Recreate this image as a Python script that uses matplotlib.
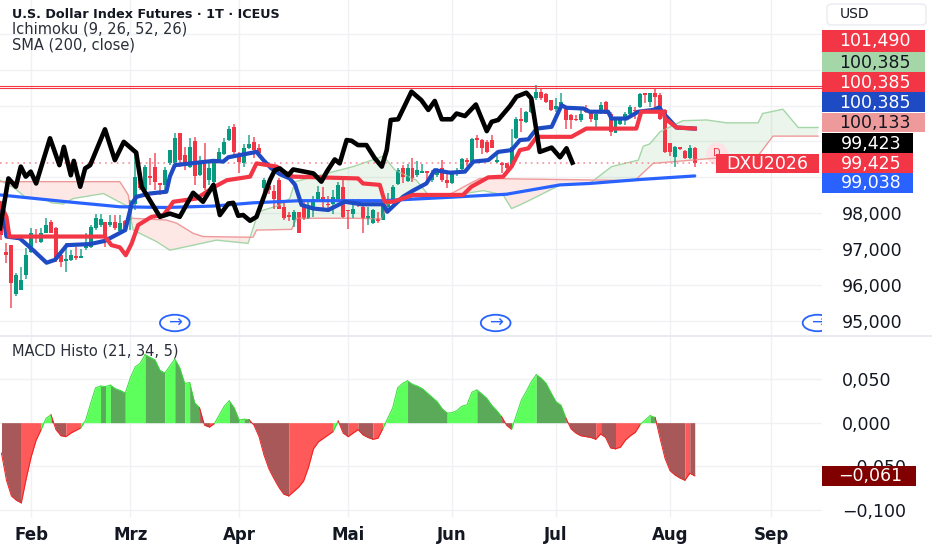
import numpy as np
import matplotlib
matplotlib.use("Agg")
import matplotlib.pyplot as plt
from matplotlib.patches import Ellipse, Rectangle, FancyBboxPatch

# daily candles
opens = [98.32,96.93,97.11,95.75,95.86,96.28,96.93,97.37,97.21,97.46,97.76,97.60,96.83,96.68,96.70,96.81,96.76,97.02,97.07,97.60,
         97.67,97.76,97.67,97.76,97.51,97.79,97.81,98.27,99.11,98.65,99.04,99.30,98.83,98.79,99.39,99.39,100.23,99.62,99.30,100.02,
         99.06,99.44,98.92,98.88,99.44,99.65,100.04,100.41,99.57,99.39,99.81,99.99,99.81,98.69,98.75,98.62,98.92,98.18,97.95,97.81,
         98.04,98.23,97.86,98.18,98.39,98.46,98.27,98.26,98.41,98.74,98.10,97.98,98.35,98.18,97.88,97.74,97.84,97.81,98.18,98.37,
         98.81,99.25,98.91,99.25,99.06,99.13,99.17,98.94,99.06,99.25,98.94,98.83,99.13,99.22,99.48,99.39,100.09,100.04,99.99,100.04,
         99.44,99.39,99.39,99.28,100.09,100.62,100.55,100.83,101.20,101.39,101.32,101.15,100.90,101.01,100.97,100.74,100.64,100.60,100.92,100.83,
         100.60,100.83,101.11,100.78,100.24,100.50,100.64,100.78,100.89,100.95,101.35,101.11,101.36,101.29,100.88,99.95,99.56,99.84,99.73,99.53,99.83]
highs = [98.32,97.16,97.11,96.32,96.51,97.02,97.58,97.55,97.58,97.86,97.81,97.62,96.93,97.16,96.97,97.05,96.99,97.44,97.67,97.99,
         97.99,97.76,97.95,97.95,97.95,97.81,98.37,99.67,99.16,99.34,99.55,99.67,98.83,99.28,99.76,100.24,100.23,99.85,100.09,100.13,
         99.59,99.95,99.44,99.46,99.81,100.09,100.43,100.50,99.71,99.93,100.18,100.13,99.93,98.97,98.90,98.79,98.97,98.37,98.04,98.09,
         98.04,98.32,98.34,98.48,98.76,98.74,98.48,98.65,98.88,98.92,98.10,98.41,98.41,98.23,98.16,98.13,98.04,98.27,98.57,98.80,
         99.25,99.34,99.37,99.55,99.46,99.37,99.17,99.20,99.25,99.48,99.09,99.16,99.25,99.53,99.53,100.09,100.18,100.06,100.04,100.18,
         99.62,99.44,99.41,100.34,100.69,100.92,100.86,101.20,101.57,101.48,101.36,101.17,101.20,101.36,100.99,100.78,100.74,100.88,101.01,100.86,
         100.83,101.11,101.14,100.83,100.64,100.69,100.83,101.01,100.97,101.36,101.36,101.36,101.45,101.34,100.90,99.97,99.87,99.84,99.76,99.90,99.85]
lows = [97.25,96.62,95.35,95.69,95.86,96.18,96.90,97.16,97.16,97.44,97.44,96.65,96.51,96.37,96.68,96.70,96.74,96.97,97.02,97.53,
        97.62,97.07,97.62,97.53,97.46,97.51,97.53,98.09,98.65,98.60,98.79,98.65,98.51,98.65,99.34,99.30,99.30,99.20,99.25,98.79,
        99.04,98.65,98.79,98.74,99.39,99.62,100.02,99.62,99.11,99.28,99.78,99.55,99.57,98.37,98.55,98.13,98.11,97.81,97.79,97.62,
        97.44,97.81,97.84,97.90,98.35,98.07,98.04,97.99,98.39,97.86,97.55,97.86,98.18,97.46,97.67,97.70,97.74,97.81,98.13,98.32,
        98.79,98.83,98.88,98.88,99.02,99.11,98.88,98.88,99.02,98.88,98.69,98.81,99.04,99.20,99.32,99.34,99.83,99.65,99.69,99.81,
        99.39,99.13,99.20,99.25,100.06,100.27,100.52,100.80,101.17,101.15,101.08,100.86,100.83,100.97,100.36,100.36,100.58,100.55,100.80,100.55,
        100.36,100.78,100.76,100.15,100.23,100.46,100.46,100.74,100.64,100.92,101.06,100.97,100.97,100.60,99.67,99.59,99.30,99.76,99.50,99.50,99.28]
closes = [97.39,96.83,96.05,96.28,96.14,96.83,97.44,97.32,97.44,97.67,97.46,96.70,96.65,96.72,96.83,96.76,96.81,97.11,97.62,97.86,
          97.84,97.35,97.76,97.58,97.72,97.53,98.23,99.02,98.69,99.30,98.97,98.88,98.79,99.20,99.76,100.10,99.48,99.34,99.85,99.04,
          99.39,98.69,99.25,99.39,99.71,99.99,100.36,99.71,99.44,99.83,99.93,99.76,99.67,98.92,98.65,98.41,98.13,97.86,97.90,98.04,
          97.44,97.86,98.23,98.41,98.60,98.32,98.22,98.46,98.80,97.90,98.05,98.13,98.30,97.86,97.93,98.09,97.78,98.23,98.32,98.74,
          99.20,99.02,99.25,98.97,99.20,99.18,99.12,99.11,99.22,98.92,98.83,99.13,99.18,99.50,99.44,100.06,100.03,99.81,99.71,99.83,
          99.48,99.34,99.25,99.85,100.64,100.57,100.83,101.17,101.39,101.20,101.11,100.88,101.00,101.11,100.60,100.60,100.59,100.78,100.83,100.64,
          100.76,101.01,100.78,100.27,100.60,100.64,100.78,100.97,100.84,101.32,101.30,101.34,101.25,100.64,99.71,99.71,99.85,99.79,99.53,99.81,99.41]

tenkan_x = [0,1,3.7,6.4,9.1,10.8,13.2,17.9,20.9,25,26.3,27.3,30,33.3,34,35,42.8,44.8,45.8,51.5,52.9,54.5,56.2,58.2,59.3,60.6,63,66,68,69.3,72.7,77.1,77.9,81.1,83.1,85.8,87.5,90.6,93.6,95.3,98.3,100.3,103,104.7,106.4,108.1,111.1,112.8,113.1,114.1,117.5,118.8,122.5,123.2,126.2,128.6,131.6,132.8,134,136.3,140]
tenkan_y = [98.27,97.35,97.30,96.97,96.62,96.70,97.11,97.14,97.23,97.53,98.27,98.46,98.55,98.60,99.02,99.34,99.46,99.44,99.56,99.71,99.48,99.25,99.09,98.97,98.79,98.23,98.13,98.09,98.23,98.32,98.25,98.25,98.04,98.46,98.63,98.83,99.20,99.13,99.16,99.44,99.48,99.71,99.76,100.04,100.06,100.36,100.41,100.92,101.01,100.94,100.92,100.83,100.83,100.64,100.64,100.83,100.88,100.95,100.74,100.39,100.36]
kijun_x = [-0.3,1,1.6,20.9,22.2,23.9,25.1,26.3,27.6,30.3,32.7,34,34.7,39.4,42.8,45.5,50.2,51.5,55.6,56.9,58.9,72,73,76.4,77.4,79.1,83.1,93.2,94.9,98.3,101.3,103,104.7,106.4,108.1,115.1,118.1,128.2,129.2,133.6,134,136.3,140]
kijun_y = [98.27,97.90,97.35,97.35,97.11,97.05,96.83,97.16,97.67,97.90,97.95,98.18,98.32,98.41,98.72,98.92,99.02,99.39,99.30,99.16,99.02,98.97,98.83,98.79,98.32,98.32,98.51,98.51,98.74,99.00,99.02,99.30,99.76,99.81,100.13,100.13,100.36,100.36,100.83,100.83,100.64,100.39,100.36]
chikou_x = [-0.3,1.4,2.9,3.9,4.9,5.9,7,9.8,11.7,12.6,14,14.6,15.9,16.9,17.9,20.9,22.9,24.7,27.2,28.3,32,34,36,38.7,40.7,42.8,44.1,45.8,46.8,47.8,48.8,50.2,51.5,54.2,55.2,56.2,57.9,58.9,63,64.6,65.7,67.3,68.3,69.7,70.7,72,73.7,75.4,76.8,77.8,78.6,80.1,82.8,84.8,86.2,87.5,88.9,90.9,91.9,93.6,95.8,98,99,100.3,102.7,104,106,107,108.7,111.1,112.8,114.1,115.3]
chikou_y = [97.58,98.97,98.74,99.30,99.02,99.16,98.83,100.09,99.34,99.85,99.06,99.46,98.74,99.25,99.34,100.34,99.48,99.99,99.69,98.74,97.90,97.99,97.90,98.57,98.32,98.79,97.95,98.27,98.29,97.93,97.95,97.79,97.90,98.92,99.20,99.25,99.06,99.22,99.11,98.88,99.16,99.50,99.39,100.04,100.02,99.90,99.90,99.53,99.30,99.76,100.60,100.62,101.39,101.15,100.88,101.13,100.62,100.62,100.78,100.71,101.03,100.29,100.55,100.60,100.99,101.25,101.36,101.20,99.71,99.83,99.56,99.81,99.41]
sma_x = [-0.3,13.2,23.9,33.3,42.8,50.8,60.3,77.1,89.9,102,112.8,118.8,128.9,140]
sma_y = [98.51,98.32,98.18,98.16,98.20,98.29,98.35,98.35,98.44,98.53,98.79,98.83,98.94,99.04]
span_a_x = [-0.3,2.7,4.7,9.1,10.1,12.5,14.5,20.6,25.6,26.6,31.3,34,38.1,43.4,49.8,51.9,56.2,58.2,59.3,71,77.1,79.5,83.8,86.2,89.2,92.6,97.3,101.3,103,104.7,108.1,112.8,118.8,123.2,128.6,129.6,130.9,133,137.6,142.4,146.4,152.8,153.7,157.8,160.9,164.9]
span_a_y = [98.92,98.69,98.46,98.37,98.29,98.26,98.41,98.55,98.18,97.53,97.21,96.97,97.09,97.25,97.16,98.04,98.23,98.41,98.88,99.30,99.59,99.20,98.92,98.51,98.46,98.53,98.63,98.51,98.13,98.23,98.46,98.79,98.83,99.30,99.48,99.87,99.93,100.27,100.58,100.60,100.52,100.52,100.78,100.90,100.39,100.39]
span_b_x = [-0.3,23.9,25.6,26.3,33.3,35.4,38.7,40.7,50.8,51.5,58.6,59.6,71,76.8,77.8,79.8,89.9,95.3,96.6,123.2,127.9,131.6,143.6,152.4,155.8,164.9]
span_b_y = [98.88,98.88,98.51,97.86,97.81,97.72,97.44,97.35,97.33,97.53,97.55,97.86,97.86,97.84,98.23,98.39,98.48,98.88,98.97,98.92,98.91,99.39,99.53,99.53,100.15,100.15]

level_lines = [101.56, 101.485]
last_close = 99.41

macd = [-0.035,-0.066,-0.084,-0.089,-0.092,-0.064,-0.039,-0.020,-0.008,0.005,0.009,-0.008,-0.015,-0.016,-0.012,-0.009,-0.006,0.003,0.022,0.040,
        0.042,0.0415,0.043,0.039,0.037,0.034,0.051,0.064,0.068,0.078,0.075,0.072,0.060,0.057,0.065,0.073,0.063,0.045,0.046,0.023,
        0.017,-0.003,-0.005,-0.001,0.009,0.019,0.025,0.017,0.003,0.004,0.0035,-0.003,-0.016,-0.037,-0.053,-0.064,-0.074,-0.082,-0.084,-0.079,
        -0.074,-0.067,-0.051,-0.030,-0.022,-0.018,-0.014,-0.010,0.002,-0.012,-0.016,-0.012,-0.008,-0.014,-0.017,-0.019,-0.018,-0.007,0.005,0.017,
        0.040,0.045,0.048,0.044,0.042,0.039,0.034,0.029,0.024,0.016,0.011,0.0115,0.014,0.019,0.0205,0.035,0.0375,0.033,0.028,0.020,
        0.014,0.007,-0.003,-0.0077,0.009,0.026,0.036,0.047,0.055,0.051,0.045,0.034,0.024,0.020,0.005,-0.007,-0.012,-0.015,-0.016,-0.017,
        -0.019,-0.013,-0.017,-0.029,-0.030,-0.028,-0.020,-0.015,-0.011,-0.002,0.003,0.008,0.006,-0.018,-0.041,-0.055,-0.060,-0.0635,-0.066,-0.058,-0.061]

month_pos = [6, 26, 48, 70, 91, 112, 135, 155.5]
month_names = ["Feb", "Mrz", "Apr", "Mai", "Jun", "Jul", "Aug", "Sep"]
price_ticks = [95, 96, 97, 98, 99, 100, 101, 102, 103]
hidden_ticks = [99, 101, 102, 103]
macd_ticks = [0.05, 0.0, -0.05, -0.1]
icon_pos = [35, 99.8, 164.8]

tag_text = ["101,490", "100,385", "100,385", "100,385", "100,133", "99,423", "99,425", "99,038"]
tag_fill = ["#f23645", "#a5d6a7", "#f23645", "#1e4bc4", "#ef9a9a", "#000000", "#f23645", "#2962ff"]
tag_ink = ["white", "#131722", "white", "white", "#131722", "white", "white", "white"]
tag_top = [30, 52, 72, 92.5, 112.5, 133, 153, 173]
tag_right = [925, 925, 925, 925, 925, 913, 913, 913]

UP = "#089981"
DOWN = "#f23645"
GRID = "#f0f1f4"
INK = "#131722"

W, H = 932, 550
fig = plt.figure(figsize=(W / 100, H / 100), dpi=100)


def pane(top, bottom):
    return fig.add_axes([0, 1 - bottom / H, 822 / W, (bottom - top) / H])


def fig_box(x0, y0, x1, y1, color):
    fig.add_artist(Rectangle((x0 / W, 1 - y1 / H), (x1 - x0) / W, (y1 - y0) / H,
                             transform=fig.transFigure, fc=color, ec="none"))


def slope_colour(prev, cur):
    if cur >= 0:
        return "#5cff5c" if cur > prev else "#5aaa5a"
    return "#ff5a5a" if cur > prev else "#a85858"


ax = pane(0, 335)
ax2 = pane(337, 518)
for a in (ax, ax2):
    a.set_xlim(-0.3, 165.7)
    a.set_xticks(month_pos)
    a.grid(True, color=GRID, lw=1)
    a.set_axisbelow(True)
    for s in a.spines.values():
        s.set_visible(False)
    a.yaxis.tick_right()
    a.tick_params(length=0, labelsize=12.5, labelcolor=INK, pad=14.5)
ax.set_ylim(94.605, 103.945)
ax.set_yticks(price_ticks)
ax.set_yticklabels(["" if p in hidden_ticks else f"{p:.3f}".replace(".", ",") for p in price_ticks])
ax.tick_params(axis="x", labelbottom=False)

# cloud
bars = np.linspace(-0.3, 164.9, 800)
a_line = np.interp(bars, span_a_x, span_a_y)
b_line = np.interp(bars, span_b_x, span_b_y)
ax.fill_between(bars, a_line, b_line, where=a_line >= b_line, color="#43a047", alpha=0.1, lw=0, interpolate=True)
ax.fill_between(bars, a_line, b_line, where=a_line < b_line, color="#f44336", alpha=0.12, lw=0, interpolate=True)
ax.plot(span_a_x, span_a_y, color="#a5d6a7", lw=1)
ax.plot(span_b_x, span_b_y, color="#ef9a9a", lw=1)

ax.axhline(last_close, color="#f78f99", lw=1.2, ls=(0, (1, 2.5)))

# faint dividend bubble behind the contract label
ax.add_patch(Ellipse((144.5, 99.66), 4.4, 0.62, fc="#fde3e5", ec="none"))
ax.text(144.5, 99.68, "D", color=DOWN, fontsize=7, ha="center", va="center")

# candles
for i in range(len(opens)):
    col = UP if closes[i] >= opens[i] else DOWN
    ax.vlines(i, lows[i], highs[i], color=col, lw=1.2, alpha=0.8)
    ax.bar(i, max(abs(closes[i] - opens[i]), 0.05), bottom=min(opens[i], closes[i]), width=0.8, color=col, lw=0)

ax.plot(sma_x, sma_y, color="#2962ff", lw=2.3, solid_capstyle="round")
ax.plot(tenkan_x, tenkan_y, color="#1e4bc4", lw=3, solid_joinstyle="round")
ax.plot(kijun_x, kijun_y, color="#f23645", lw=3, solid_joinstyle="round")
ax.plot(chikou_x, chikou_y, color="black", lw=3.3, solid_joinstyle="round")
for lv in level_lines:
    ax.axhline(lv, color=DOWN, lw=0.8)

# session arrows
for px in icon_pos:
    ax.add_patch(Ellipse((px, 94.94), 6, 0.46, fc="white", ec="#2962ff", lw=1.3, zorder=5))
    ax.text(px, 94.95, "\u2192", color="#2962ff", fontsize=12, ha="center", va="center", zorder=6, clip_on=True)

# MACD area, coloured by slope; runs of one colour are filled together so no seams show
ax2.set_ylim(-0.1093, 0.0982)
ax2.set_yticks(macd_ticks)
ax2.set_yticklabels([f"{v:.3f}".replace(".", ",").replace("-", "\u2212") for v in macd_ticks])
ax2.set_xticklabels(month_names, fontsize=12, fontweight="bold")
ax2.tick_params(axis="x", pad=6, labelcolor=INK)
start = 0
for i in range(1, len(macd)):
    col = slope_colour(macd[i - 1], macd[i])
    next_col = slope_colour(macd[i], macd[i + 1]) if i + 1 < len(macd) else None
    if col != next_col:
        xs = np.arange(start, i + 1)
        ys = macd[start:i + 1]
        ax2.fill_between(xs, ys, 0, color=col, lw=0)
        ax2.plot(xs, ys, color="#33dd33" if macd[i] >= 0 else "#ee2222", lw=0.7)
        start = i

# pane separator
fig_box(0, 334.5, W, 336.5, "#e9ebf1")

# header legend
fig.text(12 / W, 1 - 14.5 / H, "U.S. Dollar Index Futures \u00b7 1T \u00b7 ICEUS", fontsize=9.2, fontweight="bold",
         color=INK, va="center")
fig.text(12 / W, 1 - 29.5 / H, "Ichimoku (9, 26, 52, 26)", fontsize=10.5, color="#2a2e39", va="center")
fig.text(12 / W, 1 - 44.5 / H, "SMA (200, close)", fontsize=10.5, color="#2a2e39", va="center")
fig.text(12 / W, 1 - 351 / H, "MACD Histo (21, 34, 5)", fontsize=10.5, color="#2a2e39", va="center")

# currency box
fig.add_artist(FancyBboxPatch((827 / W, 1 - 25 / H), 99 / W, 21 / H, transform=fig.transFigure,
                              boxstyle="round,pad=0,rounding_size=0.006", fc="white", ec="#e9ebf1", lw=1))
fig.text(840 / W, 1 - 14.5 / H, "USD", fontsize=10, color=INK, va="center")

# price tags on the scale
for txt, fc, ink, top, right in zip(tag_text, tag_fill, tag_ink, tag_top, tag_right):
    fig_box(822, top, right, top + 19.7 + (2 if top == 30 else 0), fc)
    fig.text((875 if right == 925 else 871) / W, 1 - (top + 10.5) / H, txt, fontsize=12.5, color=ink, ha="center", va="center")

# contract label
fig_box(716, 154, 819, 173, DOWN)
fig.text(767.5 / W, 1 - 164 / H, "DXU2026", fontsize=12.5, color="white", ha="center", va="center")

# MACD tag
fig_box(822, 466, 916, 486, "#800000")
fig.text(870 / W, 1 - 476 / H, "\u22120,061", fontsize=12.5, color="white", ha="center", va="center")

fig.savefig("out.png", dpi=100, facecolor="white")
